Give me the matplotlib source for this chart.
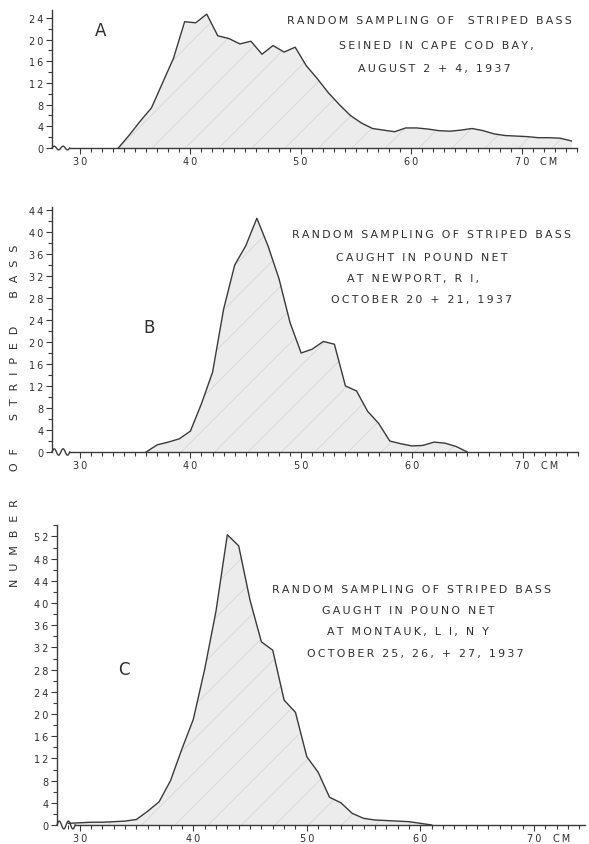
import numpy as np
import matplotlib
matplotlib.use('Agg')
import matplotlib.pyplot as plt
from matplotlib.ticker import FixedLocator, FuncFormatter

"""
Length frequency of striped bass, three random samples (1937).
"""

W, H = 589, 845
INK = '#2e2e2e'

# A: seined in Cape Cod Bay
len_a = [33.5, 34.5, 35.5, 36.5, 37.5, 38.5, 39.5, 40.5, 41.5, 42.5, 43.5, 44.5, 45.5, 46.5,
         47.5, 48.5, 49.5, 50.5, 51.5, 52.5, 53.5, 54.5, 55.5, 56.5, 57.5, 58.5, 59.5, 60.5,
         61.5, 62.5, 63.5, 64.5, 65.5, 66.5, 67.5, 68.5, 69.5, 70.5, 71.5, 72.5, 73.5, 74.5]
num_a = [0, 2.4, 5.0, 7.4, 12, 16.6, 23.3, 23.1, 24.7, 20.7, 20.2, 19.2, 19.7, 17.3,
         18.9, 17.7, 18.6, 15.2, 12.8, 10.2, 8.0, 6.0, 4.6, 3.6, 3.3, 3.0, 3.7, 3.7,
         3.5, 3.2, 3.1, 3.3, 3.6, 3.2, 2.6, 2.3, 2.2, 2.1, 1.9, 1.9, 1.8, 1.3]

# B: pound net, Newport R.I.
len_b = [36, 37, 38, 39, 40, 41, 42, 43, 44, 45, 46, 47, 48, 49, 50,
         51, 52, 53, 54, 55, 56, 57, 58, 59, 60, 61, 62, 63, 64, 65]
num_b = [0, 1.3, 1.8, 2.4, 3.8, 8.8, 14.5, 26, 34, 37.5, 42.5, 37.5, 31.5, 23.5, 18,
         18.7, 20.1, 19.6, 12, 11.1, 7.4, 5.2, 2, 1.5, 1.1, 1.2, 1.8, 1.6, 1.0, 0]

# C: pound net, Montauk L.I.
len_c = [29, 30, 31, 32, 33, 34, 35, 36, 37, 38, 39, 40, 41, 42, 43, 44, 45,
         46, 47, 48, 49, 50, 51, 52, 53, 54, 55, 56, 57, 58, 59, 60, 61]
num_c = [0.3, 0.4, 0.5, 0.5, 0.6, 0.7, 1.0, 2.5, 4.2, 8.0, 13.7, 19, 28, 38.5, 52.3, 50.3, 40.5,
         33, 31.5, 22.5, 20.3, 12.3, 9.5, 5.0, 4.0, 2.1, 1.2, 0.9, 0.8, 0.7, 0.6, 0.3, 0]

titles_a = ['RANDOM SAMPLING OF  STRIPED BASS', 'SEINED IN CAPE COD BAY,', 'AUGUST 2 + 4, 1937']
titles_b = ['RANDOM SAMPLING OF STRIPED BASS', 'CAUGHT IN POUND NET', 'AT NEWPORT, R I,',
            'OCTOBER 20 + 21, 1937']
titles_c = ['RANDOM SAMPLING OF STRIPED BASS', 'GAUGHT IN POUNO NET', 'AT MONTAUK, L I, N Y',
            'OCTOBER 25, 26, + 27, 1937']

plt.rcParams['hatch.linewidth'] = 0.5


def spaced(s, sep='\u2009'):
    return sep.join(s)


def ftext(x, y, s, **kw):
    """text placed in pixel coords of the figure"""
    fig.text(x / W, 1 - y / H, s, color=INK, ha='center', va='center', **kw)


def panel(box, xlim, ylim, ytop, xs, ys, tick0):
    l, r, b, t = box
    ax = fig.add_axes([l / W, 1 - b / H, (r - l) / W, (b - t) / H])
    ax.set_xlim(*xlim)
    ax.set_ylim(0, ylim)

    ax.fill_between(xs, ys, color='#ececec', lw=0)
    ax.fill_between(xs, ys, facecolor='none', hatch='/', edgecolor='#d2d2d2', lw=0)
    ax.plot(xs, ys, color='#3a3a3a', lw=1.0)

    for s in ['top', 'right']:
        ax.spines[s].set_visible(False)
    brk = xlim[0] + 1.6
    ax.spines['bottom'].set_bounds(brk, xlim[1])
    ax.spines['left'].set_bounds(0, ytop)
    for s in ['bottom', 'left']:
        ax.spines[s].set_color('#3a3a3a')
        ax.spines[s].set_linewidth(1.0)

    # axis break squiggle
    sx = np.linspace(xlim[0], brk, 80)
    sy = ylim * 0.013 * np.sin(2 * np.pi * 2 * (sx - xlim[0]) / (brk - xlim[0]))
    ax.plot(sx, sy, color='#3a3a3a', lw=1.0, clip_on=False)

    ax.xaxis.set_major_locator(FixedLocator([30, 40, 50, 60, 70]))
    ax.xaxis.set_minor_locator(FixedLocator(range(tick0, int(xlim[1]) + 1)))
    ax.yaxis.set_major_locator(FixedLocator(range(0, int(ytop) + 1, 4)))
    ax.yaxis.set_minor_locator(FixedLocator(range(0, int(ytop) + 1, 2)))
    fmt = FuncFormatter(lambda v, p: spaced(str(int(v))))
    ax.xaxis.set_major_formatter(fmt)
    ax.yaxis.set_major_formatter(fmt)
    ax.tick_params(which='both', direction='out', color='#3a3a3a', labelcolor=INK,
                   labelsize=7, width=0.8)
    ax.tick_params(which='major', length=4, pad=2)
    ax.tick_params(which='minor', length=3)
    ax.annotate(spaced('CM'), xy=(72.4, 0), xycoords=('data', 'axes fraction'),
                xytext=(0, -6), textcoords='offset points', ha='center', va='top',
                fontsize=7, color=INK)
    return ax


fig = plt.figure(figsize=(W / 100, H / 100), dpi=100)

panel((52, 577, 149, 149 - 26 * 5.42), (27.5, 75), 26, 25.5, len_a, num_a, 30)
panel((52, 578, 453, 453 - 44.5 * 5.5), (27.5, 75), 44.5, 44.5, len_b, num_b, 30)
panel((57, 585, 826, 826 - 54 * 5.55), (28, 74.5), 54, 54, len_c, num_c, 29)

ftext(101, 31, 'A', fontsize=12)
ftext(149, 328, 'B', fontsize=12)
ftext(124, 670, 'C', fontsize=12)

for (x, y), s in zip([(429, 21), (436, 46), (434, 69)], titles_a):
    ftext(x, y, spaced(s), fontsize=7.9)
for (x, y), s in zip([(432, 235), (422, 258), (413, 279), (422, 300)], titles_b):
    ftext(x, y, spaced(s), fontsize=7.9)
for (x, y), s in zip([(411, 590), (408, 611), (408, 632), (415, 654)], titles_c):
    ftext(x, y, spaced(s), fontsize=7.9)

ylab = '        '.join(spaced(w, '\u2002\u2009') for w in ['NUMBER', 'OF', 'STRIPED', 'BASS'])
ftext(15, 416, ylab, fontsize=8, rotation=90)

fig.savefig('out.png', dpi=100, facecolor='white')
